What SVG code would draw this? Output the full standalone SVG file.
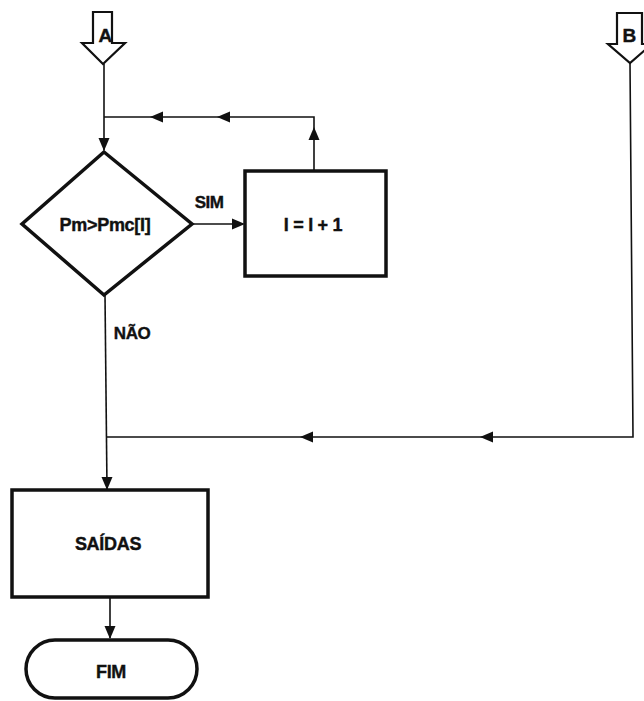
<svg xmlns="http://www.w3.org/2000/svg" width="644" height="701" viewBox="0 0 644 701">
<style>
.line{fill:none;stroke:#111;stroke-width:1.6}
.shape{fill:#fff;stroke:#111;stroke-width:3.5;stroke-linejoin:miter}
.conn{fill:#fff;stroke:#111;stroke-width:2.2;stroke-linejoin:miter}
.ah{fill:#111}
text{font-family:"Liberation Sans",Arial,sans-serif;font-weight:bold;fill:#111;text-anchor:middle;stroke:#111;stroke-width:0.4}
.big{font-size:18px;letter-spacing:-0.3px}
.lbl{font-size:17px;letter-spacing:-0.5px}
</style>
<defs>
<path id="ahR" class="ah" d="M0,0 L-13,-5.5 L-13,5.5 Z"/>
</defs>
<g id="connA">
<path class="conn" d="M93,12 L112,12 L112,43 L125,43 L103,64 L82,43 L93,43 Z"/>
<text x="105" y="42" class="lbl" style="font-size:19px">A</text>
</g>
<g id="connB">
<path class="conn" d="M617,13 L642,13 L642,44 L652,44 L630,63 L608,44 L617,44 Z"/>
<text x="629" y="42" class="lbl" style="font-size:19px">B</text>
</g>
<g id="connectors">
<path class="line" d="M104,64 L104,150"/>
<path class="line" d="M314,171 L314,117 L104,117"/>
<path class="line" d="M192,224 L243,224"/>
<path class="line" d="M105,295 L107,489"/>
<path class="line" d="M630,63 L633,437 L107,437"/>
<path class="line" d="M110,597 L110,638"/>
<use href="#ahR" transform="translate(104,151) rotate(90)"/>
<use href="#ahR" transform="translate(314,127) rotate(-90)"/>
<use href="#ahR" transform="translate(150,117) rotate(180)"/>
<use href="#ahR" transform="translate(217,117) rotate(180)"/>
<use href="#ahR" transform="translate(245,224)"/>
<use href="#ahR" transform="translate(107,490) rotate(90)"/>
<use href="#ahR" transform="translate(300,437) rotate(180)"/>
<use href="#ahR" transform="translate(480,437) rotate(180)"/>
<use href="#ahR" transform="translate(110,639) rotate(90)"/>
<text x="209" y="208" class="lbl">SIM</text>
<text x="132" y="339" class="lbl">NÃO</text>
</g>
<g id="decision">
<path class="shape" d="M104,152 L192,224 L104,295 L22,224 Z"/>
<text x="105" y="231" class="big">Pm&gt;Pmc[I]</text>
</g>
<g id="increment">
<rect class="shape" x="245" y="171" width="141" height="105"/>
<text x="313" y="231" class="big">I = I + 1</text>
</g>
<g id="saidas">
<rect class="shape" x="12" y="490" width="196" height="107"/>
<text x="108" y="550" class="big">SAÍDAS</text>
</g>
<g id="fim">
<rect class="shape" x="26" y="640" width="171" height="58" rx="29" ry="29"/>
<text x="111" y="678" class="big">FIM</text>
</g>
</svg>
